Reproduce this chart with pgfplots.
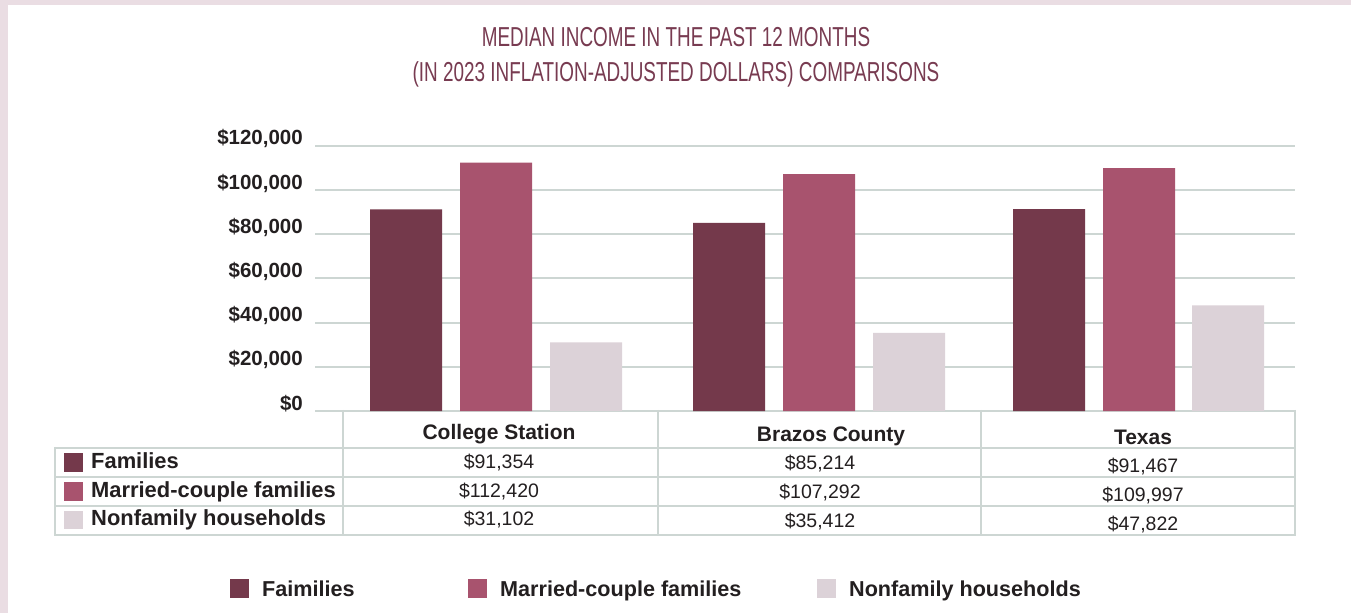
\documentclass[border=0pt]{standalone}
\usepackage{pgfplots}
\pgfplotsset{compat=1.18}
\usepackage{fontspec}
\setmainfont{Liberation Sans}
\newfontfamily\titlefont[FakeStretch=0.69]{Liberation Sans}
\definecolor{pinkbg}{HTML}{EADDE3}
\definecolor{famc}{HTML}{74394B}
\definecolor{marc}{HTML}{A8536E}
\definecolor{nonc}{HTML}{DCD2D8}
\definecolor{gridc}{HTML}{CDD6D3}
\definecolor{titc}{HTML}{783B51}
\definecolor{txt}{HTML}{231F20}
\begin{document}
\begin{tikzpicture}[x=1pt,y=1pt]
\useasboundingbox (0,0) rectangle (1351,613);
\fill[pinkbg] (0,0) rectangle (1351,613);
\fill[white] (8,0) rectangle (1351,608);
% title
\node[titc,font=\titlefont\fontsize{27.4}{34}\selectfont,anchor=base] at (676,613-47) {MEDIAN INCOME IN THE PAST 12 MONTHS};
\node[titc,font=\titlefont\fontsize{27.4}{34}\selectfont,anchor=base] at (676,613-82) {(IN 2023 INFLATION-ADJUSTED DOLLARS) COMPARISONS};
\begin{axis}[
  at={(315pt,202pt)}, anchor=south west,
  scale only axis, width=980pt, height=265pt,
  xmin=315, xmax=1295, ymin=0, ymax=120000,
  clip=false,
  axis line style={draw=none},
  xtick=\empty,
  scaled y ticks=false,
  ytick={0,20000,40000,60000,80000,100000,120000},
  yticklabels={{\$0},{\$20,000},{\$40,000},{\$60,000},{\$80,000},{\$100,000},{\$120,000}},
  yticklabel style={anchor=base east, inner sep=0pt, xshift=-12pt, yshift=1pt, font=\fontsize{20.5}{24}\selectfont\bfseries, text=txt},
  major tick length=0pt,
  ymajorgrids, grid style={gridc, line width=2pt},
  bar width=72,
  legend columns=3,
  legend style={at={(axis cs:230,-80600)}, anchor=west, draw=none, fill=none, inner sep=0pt,
     font=\fontsize{21.6}{24}\selectfont\bfseries, text=txt,
     nodes={inner sep=0pt, text depth=0pt},
     /tikz/every odd column/.append style={column sep=13pt},
     /tikz/every even column/.append style={column sep=0pt}},
  legend cell align=left,
  legend image code/.code={\fill[#1] (0pt,-9.5pt) rectangle (19pt,9.5pt);},
]
\addplot[ybar, fill=famc, draw=none] coordinates {(406,91354) (729,85214) (1049,91467)};
\addplot[ybar, fill=marc, draw=none] coordinates {(496,112420) (819,107292) (1139,109997)};
\addplot[ybar, fill=nonc, draw=none] coordinates {(586,31102) (909,35412) (1228,47822)};
\legend{\makebox[206pt][l]{Faimilies},\makebox[317pt][l]{Married-couple families},Nonfamily households}
\end{axis}
% table
\begin{scope}[gridc, line width=2pt]
\foreach \yy in {165,136,107,78.5} \draw (55,\yy) -- (1295,\yy);
\draw (55,166) -- (55,77.5);
\foreach \xx in {343,658,981,1295} \draw (\xx,203) -- (\xx,77.5);
\end{scope}
\begin{scope}[text=txt]
\tikzset{hd/.style={anchor=base, inner sep=0pt, font=\fontsize{21}{24}\selectfont\bfseries},
         vl/.style={anchor=base, inner sep=0pt, font=\fontsize{19.5}{24}\selectfont},
         rl/.style={anchor=base west, inner sep=0pt, font=\fontsize{21.9}{24}\selectfont\bfseries}}
\node[hd] at (499,173) {College Station};
\node[hd] at (831,171.3) {Brazos County};
\node[hd] at (1143,168.7) {Texas};
\node[vl] at (499,144.7) {\$91,354};
\node[vl] at (499,115.7) {\$112,420};
\node[vl] at (499,87.3) {\$31,102};
\node[vl] at (820,143) {\$85,214};
\node[vl] at (820,114) {\$107,292};
\node[vl] at (820,85.5) {\$35,412};
\node[vl] at (1143,140.3) {\$91,467};
\node[vl] at (1143,111.3) {\$109,997};
\node[vl] at (1143,83) {\$47,822};
\fill[famc] (64,141.3) rectangle (83,159.7);
\fill[marc] (64,112.3) rectangle (83,130.7);
\fill[nonc] (64,83.7) rectangle (83,102);
\node[rl] at (91,144.7) {Families};
\node[rl] at (91,115.7) {Married-couple families};
\node[rl] at (91,87.3) {Nonfamily households};
\end{scope}
\end{tikzpicture}
\end{document}
